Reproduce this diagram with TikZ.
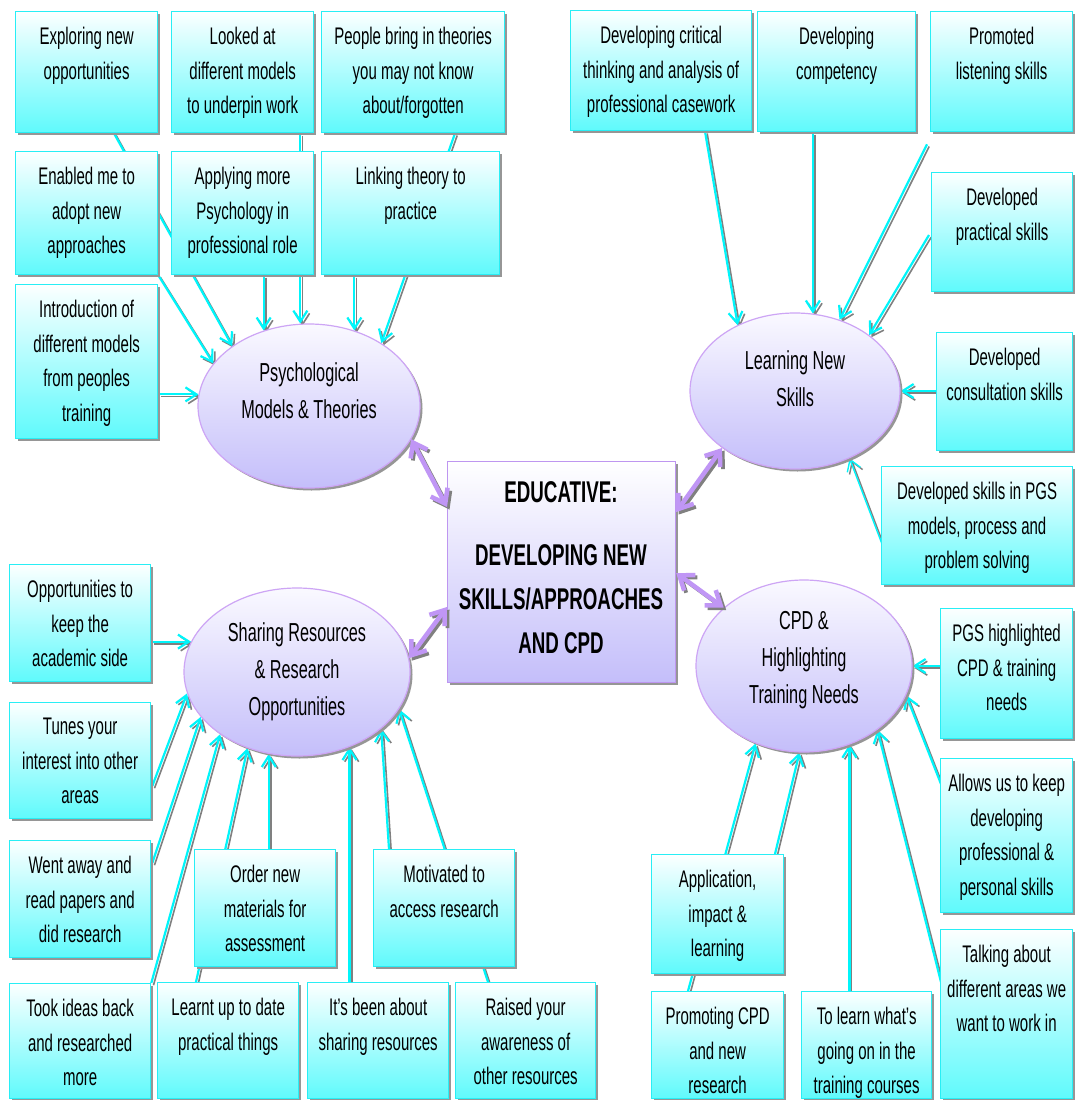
\documentclass[tikz,border=0pt]{standalone}
\usepackage{fontspec}
\setmainfont{Liberation Sans}[FakeStretch=0.625]
\usetikzlibrary{calc,shapes.geometric,shadows,arrows.meta}
\pgfdeclarelayer{back}
\pgfdeclarelayer{links}
\pgfsetlayers{back,links,main}

\definecolor{linkcyan}{RGB}{0,245,250}
\definecolor{linkgray}{RGB}{128,128,128}
\definecolor{boxedge}{RGB}{40,238,245}
\definecolor{boxtop}{RGB}{252,255,255}
\definecolor{boxbot}{RGB}{95,250,252}
\definecolor{ovaltop}{RGB}{250,249,255}
\definecolor{ovalbot}{RGB}{196,190,250}
\definecolor{ovaledge}{RGB}{205,165,245}
\definecolor{hubedge}{RGB}{190,150,240}
\definecolor{hubarrow}{RGB}{192,150,245}
\definecolor{dropgray}{RGB}{150,150,150}

\tikzset{
  boxshadow/.style={drop shadow={shadow xshift=2.5pt, shadow yshift=-2.5pt, fill=dropgray, opacity=1}},
  infobox/.style={rectangle, draw=boxedge, line width=1.3pt, top color=boxtop,
    bottom color=boxbot, inner sep=0pt, anchor=north west, boxshadow},
  boxtext/.style={inner sep=0pt, align=center, anchor=north,
    font=\fontsize{24}{34.5}\selectfont},
  oval/.style={ellipse, draw=ovaledge, line width=1.2pt, top color=ovaltop,
    bottom color=ovalbot, inner sep=0pt, boxshadow},
  ovaltext/.style={inner sep=0pt, align=center, font=\fontsize{26}{37}\selectfont},
  hub/.style={rectangle, draw=hubedge, line width=1.2pt, top color=white,
    bottom color=ovalbot, inner sep=0pt, anchor=north west, boxshadow},
  hubtext/.style={inner sep=0pt, align=center, font=\fontsize{30}{44}\selectfont\bfseries},
  linktip/.style={-{Straight Barb[length=11pt,width=14pt]}},
  linkline/.style={draw=linkcyan, line width=2.2pt, linktip},
  linkshadow/.style={draw=linkgray, line width=1.6pt, linktip},
  hubtips/.style={{Straight Barb[length=13pt,width=19pt]}-{Straight Barb[length=13pt,width=19pt]}},
  hubline/.style={draw=hubarrow, line width=4.5pt, hubtips},
  hubshadow/.style={draw=linkgray, line width=3.8pt, hubtips},
}

% a text box: name, left, top, width, height, lines
\newcommand\infobox[6]{%
  \node[infobox, minimum width=#4pt, minimum height=#5pt] (#1) at (#2,#3) {};
  \node[boxtext] (#1-t) at ($(#1.north)+(0,16)$) {#6};}

% a cyan arrow with its grey shadow
\newcommand\link[3][]{%
  \path #2 coordinate (l-s) #3 coordinate (l-e);
  \draw[linkshadow,#1] ($(l-s)+(2.2,2.2)$) -- ($(l-e)+(2.2,2.2)$);
  \draw[linkline,#1] (l-s) -- (l-e);}

% a purple two-headed arrow with its grey shadow
\newcommand\hublink[2]{%
  \path #1 coordinate (h-s) #2 coordinate (h-e);
  \draw[hubshadow] ($(h-s)+(2.5,2.5)$) -- ($(h-e)+(2.5,2.5)$);
  \draw[hubline] (h-s) -- (h-e);}

\begin{document}
\begin{tikzpicture}[x=1pt,y=-1pt]
\useasboundingbox (0,0) rectangle (1074,1100);
\begin{pgfonlayer}{back}
\fill[white] (0,0) rectangle (1074,1100);
\end{pgfonlayer}

% ---- theory boxes (top left)
\infobox{expl}{15}{11}{142}{121}{Exploring new\\opportunities}
\infobox{lkd}{171}{11}{142}{121}{Looked at\\different models\\to underpin work}
\infobox{ppl}{321}{11}{183}{121}{People bring in theories\\you may not know\\about/forgotten}
\infobox{enab}{15}{151}{142}{123}{Enabled me to\\adopt new\\approaches}
\infobox{appl}{171}{151}{142}{123}{Applying more\\Psychology in\\professional role}
\infobox{lnk}{321}{151}{178}{123}{Linking theory to\\practice}
\infobox{intro}{15}{284}{142}{154}{Introduction of\\different models\\from peoples\\training}

% ---- skills boxes (top right)
\infobox{crit}{570}{10}{181}{120}{Developing critical\\thinking and analysis of\\professional casework}
\infobox{comp}{757}{11}{158}{120}{Developing\\competency}
\infobox{prom}{930}{11}{142}{120}{Promoted\\listening skills}
\infobox{prac}{931}{172}{141}{119}{Developed\\practical skills}
\infobox{cons}{936}{332}{136}{118}{Developed\\consultation skills}
\infobox{pgsm}{881}{466}{191}{118}{Developed skills in PGS\\models, process and\\problem solving}

% ---- resources boxes (bottom left)
\infobox{opp}{9}{564}{141}{117}{Opportunities to\\keep the\\academic side}
\infobox{tunes}{9}{702}{141}{116}{Tunes your\\interest into other\\areas}
\infobox{went}{9}{840}{141}{117}{Went away and\\read papers and\\did research}
\infobox{took}{9}{983}{141}{115}{Took ideas back\\and researched\\more}
\infobox{order}{194}{849}{141}{117}{Order new\\materials for\\assessment}
\infobox{learnt}{157}{982}{141}{116}{Learnt up to date\\practical things}
\infobox{itsb}{307}{982}{141}{116}{It’s been about\\sharing resources}
\infobox{motiv}{373}{849}{141}{117}{Motivated to\\access research}
\infobox{raised}{455}{982}{140}{116}{Raised your\\awareness of\\other resources}

% ---- CPD boxes (bottom right)
\infobox{pgsh}{940}{608}{132}{130}{PGS highlighted\\CPD \& training\\needs}
\infobox{allows}{940}{758}{132}{154}{Allows us to keep\\developing\\professional \&\\personal skills}
\infobox{talk}{940}{929}{132}{169}{Talking about\\different areas we\\want to work in}
\infobox{applc}{651}{854}{132}{119}{Application,\\impact \&\\learning}
\infobox{promo}{651}{991}{132}{107}{Promoting CPD\\and new\\research}
\infobox{tolearn}{801}{991}{130}{107}{To learn what’s\\going on in the\\training courses}

% ---- theme ovals
\node[oval, minimum width=222pt, minimum height=164pt] (psy) at (309,406) {};
\node[ovaltext] (psy-t) at (309,391) {Psychological\\Models \& Theories};
\node[oval, minimum width=210pt, minimum height=156pt] (lrn) at (795,391) {};
\node[ovaltext] (lrn-t) at (795,379) {Learning New\\Skills};
\node[oval, minimum width=226pt, minimum height=168pt] (shr) at (297,672) {};
\node[ovaltext] (shr-t) at (297,672) {Sharing Resources\\\& Research\\Opportunities};
\node[oval, minimum width=216pt, minimum height=172pt] (cpd) at (804,666) {};
\node[ovaltext] (cpd-t) at (804,660) {CPD \&\\Highlighting\\Training Needs};

% ---- central box
\node[hub, minimum width=228pt, minimum height=221pt] (hub) at (447,461) {};
\node[hubtext] (hub-a) at (561,492) {EDUCATIVE:};
\node[hubtext] (hub-b) at (561,599) {DEVELOPING NEW\\SKILLS/APPROACHES\\AND CPD};

% ---- arrows, kept underneath the boxes
\begin{pgfonlayer}{links}
\link{($(expl.south west)+(99,0)$)}{(psy.142.7)}
\link{(enab.south east)}{(psy.156.3)}
\link{(psy.96.6 |- lkd.south)}{(psy.96.6)}
\link{(psy.121.5 |- appl.south)}{(psy.121.5)}
\link{($(ppl.south west)+(134,0)$)}{(psy.41.2)}
\link{(psy.59.4 |- lnk.south)}{(psy.59.4)}
\link{(intro.east |- psy.174.5)}{(psy.174.5)}

\link{($(crit.south west)+(135,0)$)}{(lrn.131)}
\link{(lrn.77.4 |- comp.south)}{(lrn.77.4)}
\link{($(prom.south west)+(-3,12)$)}{(lrn.58.7)}
\link{($(prac.north west)+(-2,63)$)}{(lrn.37.9)}
\link{(cons.west |- lrn.east)}{(lrn.east)}
\link[line width=1.4pt]{($(pgsm.north west)+(1,78)$)}{(lrn.-51.6)}

\link{(opp.east |- shr.164.8)}{(shr.164.8)}
\link{($(tunes.north east)+(1,84)$)}{(shr.191.8)}
\link{($(went.north east)+(1,23)$)}{(shr.205.1)}
\link{(took.north east)}{(shr.219.9)}
\link{($(learnt.north west)+(39,0)$)}{(shr.237.7)}
\link{(shr.251.7 |- order.north)}{(shr.251.7)}
\link{(shr.305.6 |- itsb.north)}{(shr.305.6)}
\link{($(motiv.north west)+(16,0)$)}{(shr.-34.5)}
\link{($(raised.north west)+(33,0)$)}{(shr.-20.5)}

\link{(pgsh.west |- cpd.east)}{(cpd.east)}
\link{($(allows.north west)+(1,26)$)}{(cpd.-16.4)}
\link{($(talk.north west)+(1,53)$)}{(cpd.-41.8)}
\link{($(promo.north west)+(37,0)$)}{(cpd.238.4)}
\link{($(applc.north west)+(124,0)$)}{(cpd.267.8)}
\link{(cpd.-60.8 |- tolearn.north)}{(cpd.-60.8)}
\end{pgfonlayer}

% ---- two-headed links to the central box
\hublink{(psy.-18.6)}{($(hub.north west)+(0,46)$)}
\hublink{(lrn.-142.1)}{($(hub.north east)+(0,51)$)}
\hublink{(shr.7.1)}{($(hub.north west)+(0,146)$)}
\hublink{(cpd.144.7)}{($(hub.north east)+(0,112)$)}
\end{tikzpicture}
\end{document}
